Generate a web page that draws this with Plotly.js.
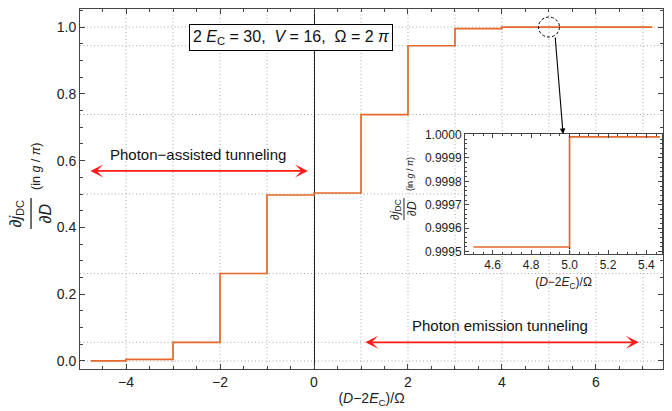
<!DOCTYPE html>
<html>
<head>
<meta charset="utf-8">
<script src="https://cdn.plot.ly/plotly-3.0.1.min.js"></script>
<style>html,body{margin:0;padding:0;background:#fff}#chart{width:672px;height:411px}</style>
</head>
<body>
<div id="chart"></div>
<script>
// ---- data ----
const stepX = [-4.75, -4, -3, -2, -1, 0, 1, 2, 3, 4, 5, 7.2];
const stepY = [0.0005, 0.005, 0.056, 0.262, 0.497, 0.503, 0.738, 0.944, 0.995, 0.99952, 0.99999, 0.99999];
const insetX = [4.5, 5.0, 5.47];
const insetY = [0.99952, 0.99999, 0.99999];
const jumpX = 5.0;
const gridX = [-4, -3, -2, -1, 0, 1, 2, 3, 4, 5, 6, 7];
const gridY = [0, 0.056, 0.262, 0.5, 0.738, 0.944, 1.0];
const xTicks = [-4, -2, 0, 2, 4, 6];
const yTicks = [0, 0.2, 0.4, 0.6, 0.8, 1.0];
const insetXTicks = [4.6, 4.8, 5.0, 5.2, 5.4];
const insetYTicks = [0.9995, 0.9996, 0.9997, 0.9998, 0.9999, 1.0];
const paramText = '2 <i>E</i><sub>C</sub> = 30,\u00A0\u00A0<i>V</i> = 16,\u00A0\u00A0Ω = 2 <i>π</i>';
const xTitle = '(<i>D</i>−2<i>E</i><sub>C</sub>)/Ω';
const numText = '∂<i>j</i><sub>DC</sub>';
const denText = '∂<i>D</i>';
const unitText = '(in <i>g</i> / <i>π</i>)';
const label1 = 'Photon−assisted tunneling';
const label2 = 'Photon emission tunneling';

const ORANGE = '#E4692B';
const FRAME = '#444';
const RED = '#FF1A1A';
const FONT = 'Liberation Sans, Arial, sans-serif';

const xRange = [-4.979, 7.426];
const yRange = [-0.024, 1.054];

const traces = [
  {x: stepX, y: stepY, type: 'scatter', mode: 'lines', line: {shape: 'hv', color: ORANGE, width: 1.7}, xaxis: 'x', yaxis: 'y', hoverinfo: 'skip'},
  {x: [jumpX, jumpX], y: [0.99949, insetY[0]], type: 'scatter', mode: 'lines', line: {color: '#000', width: 1.2, dash: '3px,2px'}, xaxis: 'x2', yaxis: 'y2', hoverinfo: 'skip'},
  {x: insetX, y: insetY, type: 'scatter', mode: 'lines', line: {shape: 'hv', color: ORANGE, width: 1.7}, xaxis: 'x2', yaxis: 'y2', hoverinfo: 'skip'}
];

const gridStyle = {color: '#a8a8a8', width: 1, dash: '1px,2.5px'};
const shapes = [];
gridX.forEach(v => shapes.push({type: 'line', xref: 'x', yref: 'paper', x0: v, x1: v, y0: 0, y1: 1, line: gridStyle, layer: 'below'}));
gridY.forEach(v => shapes.push({type: 'line', xref: 'paper', yref: 'y', x0: 0, x1: 1, y0: v, y1: v, line: gridStyle, layer: 'below'}));
// dashed circle around the x=5 step
shapes.push({type: 'circle', xref: 'x', yref: 'y', xsizemode: 'pixel', ysizemode: 'pixel', xanchor: jumpX, yanchor: 1.0,
  x0: -10.5, x1: 10.5, y0: -10, y1: 10, line: {color: '#000', width: 1, dash: '3px,2px'}});
// fraction bars of the y-axis labels
shapes.push({type: 'line', xref: 'paper', yref: 'paper', x0: -0.0840, x1: -0.0840, y0: 0.3889, y1: 0.4750, line: {color: '#222', width: 1.3}});
shapes.push({type: 'line', xref: 'paper', yref: 'paper', x0: 0.5557, x1: 0.5557, y0: 0.4139, y1: 0.4750, line: {color: '#222', width: 1}});

const ctr = {xanchor: 'center', yanchor: 'middle', showarrow: false};
const annotations = [
  Object.assign({text: paramText, xref: 'x', yref: 'y', x: -0.49, y: 0.970, font: {size: 16, color: '#111'},
   bordercolor: '#000', borderwidth: 1, borderpad: 3, bgcolor: '#fff'}, ctr),
  Object.assign({text: label1, xref: 'x', yref: 'y', x: -2.47, y: 0.617, font: {size: 15, color: '#111'}}, ctr),
  Object.assign({text: label2, xref: 'x', yref: 'y', x: 3.96, y: 0.105, font: {size: 15, color: '#111'}}, ctr),
  {text: '', xref: 'x', yref: 'y', x: -0.13, y: 0.569, axref: 'x', ayref: 'y', ax: -4.79, ay: 0.569, showarrow: true,
   arrowside: 'end+start', arrowhead: 3, startarrowhead: 3, arrowsize: 1.2, startarrowsize: 1.2, arrowwidth: 1.8, arrowcolor: RED},
  {text: '', xref: 'x', yref: 'y', x: 6.91, y: 0.056, axref: 'x', ayref: 'y', ax: 1.06, ay: 0.056, showarrow: true,
   arrowside: 'end+start', arrowhead: 3, startarrowhead: 3, arrowsize: 1.2, startarrowsize: 1.2, arrowwidth: 1.8, arrowcolor: RED},
  // arrow from circle to inset
  {text: '', xref: 'x', yref: 'y', x: 5.30, y: 0.6796, ax: -8, ay: -98, showarrow: true, arrowhead: 2, arrowsize: 1, arrowwidth: 1.1, arrowcolor: '#000'},
  // main y label
  Object.assign({text: numText, xref: 'paper', yref: 'paper', x: -0.1098, y: 0.4320, textangle: -90, font: {size: 16, color: '#222'}}, ctr),
  Object.assign({text: denText, xref: 'paper', yref: 'paper', x: -0.0600, y: 0.4320, textangle: -90, font: {size: 16, color: '#222'}}, ctr),
  Object.assign({text: unitText, xref: 'paper', yref: 'paper', x: -0.0755, y: 0.5640, textangle: -90, font: {size: 12.5, color: '#222'}}, ctr),
  // inset y label
  Object.assign({text: numText, xref: 'paper', yref: 'paper', x: 0.5420, y: 0.4444, textangle: -90, font: {size: 12, color: '#222'}}, ctr),
  Object.assign({text: denText, xref: 'paper', yref: 'paper', x: 0.5695, y: 0.4444, textangle: -90, font: {size: 12, color: '#222'}}, ctr),
  Object.assign({text: unitText, xref: 'paper', yref: 'paper', x: 0.5660, y: 0.5417, textangle: -90, font: {size: 9, color: '#222'}}, ctr)
];

const axisCommon = {
  ticks: 'inside', tickcolor: FRAME, tickwidth: 1, showline: true, linecolor: FRAME, linewidth: 1,
  mirror: 'ticks', showgrid: false, zeroline: false
};

const layout = {
  width: 672, height: 411,
  margin: {l: 80, r: 9, t: 9, b: 42},
  paper_bgcolor: '#fff', plot_bgcolor: '#fff',
  showlegend: false,
  font: {family: FONT, color: '#222'},
  xaxis: Object.assign({}, axisCommon, {
    range: xRange, tickmode: 'array', tickvals: xTicks, ticklen: 5,
    tickfont: {size: 14, color: '#222'},
    minor: {dtick: 0.5, ticks: 'inside', ticklen: 3, tickcolor: FRAME},
    zeroline: true, zerolinecolor: '#222', zerolinewidth: 1,
    title: {text: xTitle, font: {size: 14, color: '#222'}, standoff: 2}
  }),
  yaxis: Object.assign({}, axisCommon, {
    range: yRange, tickmode: 'array', tickvals: yTicks, tickformat: '.1f', ticklen: 5,
    tickfont: {size: 14, color: '#222'},
    minor: {dtick: 0.05, ticks: 'inside', ticklen: 3, tickcolor: FRAME}
  }),
  xaxis2: Object.assign({}, axisCommon, {
    domain: [0.6604, 0.9983], anchor: 'y2', range: [4.456, 5.481],
    tickmode: 'array', tickvals: insetXTicks, tickformat: '.1f', ticklen: 4,
    tickfont: {size: 12, color: '#222'},
    minor: {dtick: 0.05, ticks: 'inside', ticklen: 2, tickcolor: FRAME},
    title: {text: xTitle, font: {size: 12, color: '#222'}, standoff: 6}
  }),
  yaxis2: Object.assign({}, axisCommon, {
    domain: [0.3194, 0.6528], anchor: 'x2', range: [0.99949, 1.000002],
    tickmode: 'array', tickvals: insetYTicks, tickformat: '.4f', ticklen: 4,
    tickfont: {size: 12, color: '#222'},
    minor: {dtick: 0.00002, ticks: 'inside', ticklen: 2, tickcolor: FRAME}
  }),
  shapes: shapes,
  annotations: annotations
};

Plotly.newPlot('chart', traces, layout, {displayModeBar: false, staticPlot: true});
</script>
</body>
</html>
